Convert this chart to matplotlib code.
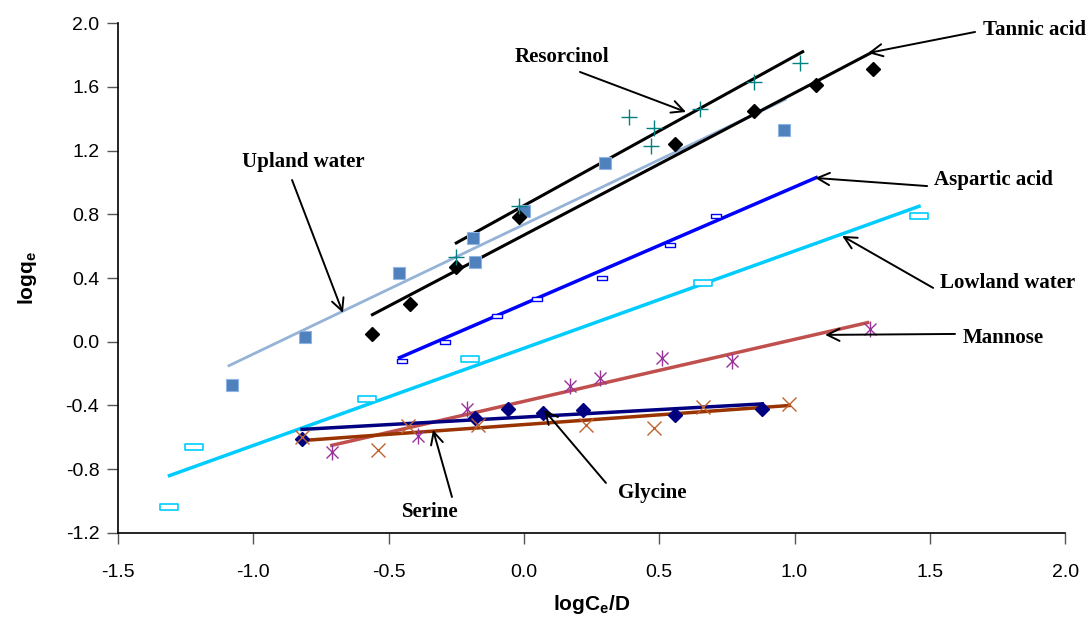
import matplotlib
matplotlib.use("Agg")
import matplotlib.pyplot as plt
from matplotlib.path import Path

plt.rcParams['font.family'] = ['Liberation Sans', 'DejaVu Sans']
plt.rcParams['mathtext.fontset'] = 'custom'
plt.rcParams['mathtext.rm'] = 'Liberation Sans'
plt.rcParams['mathtext.bf'] = 'Liberation Sans:bold'

# ---- measured points (logCe/D, logqe) ----
upland_x = [-1.08, -0.81, -0.46, -0.19, -0.18, 0.00, 0.30, 0.96]
upland_y = [-0.27, 0.03, 0.43, 0.65, 0.50, 0.82, 1.12, 1.33]

tannic_x = [-0.56, -0.42, -0.25, -0.02, 0.56, 0.85, 1.08, 1.29]
tannic_y = [0.05, 0.24, 0.47, 0.78, 1.24, 1.45, 1.61, 1.71]

resorcinol_x = [-0.25, -0.02, 0.47, 0.48, 0.39, 0.65, 0.85, 1.02]
resorcinol_y = [0.53, 0.85, 1.23, 1.34, 1.41, 1.46, 1.63, 1.75]

aspartic_x = [-0.45, -0.29, -0.10, 0.05, 0.29, 0.54, 0.71]
aspartic_y = [-0.12, 0.00, 0.16, 0.27, 0.40, 0.61, 0.79]

lowland_x = [-1.31, -1.22, -0.58, -0.20, 0.66, 1.46]
lowland_y = [-1.04, -0.66, -0.36, -0.11, 0.37, 0.79]

mannose_x = [-0.71, -0.39, -0.21, 0.17, 0.28, 0.51, 0.77, 1.28]
mannose_y = [-0.69, -0.59, -0.42, -0.28, -0.23, -0.10, -0.12, 0.08]

glycine_x = [-0.82, -0.18, -0.06, 0.07, 0.22, 0.56, 0.88]
glycine_y = [-0.61, -0.48, -0.42, -0.45, -0.43, -0.46, -0.42]

serine_x = [-0.82, -0.54, -0.43, -0.17, 0.23, 0.48, 0.66, 0.98]
serine_y = [-0.60, -0.68, -0.53, -0.52, -0.52, -0.54, -0.41, -0.39]

# ---- linear trend lines (start/end) ----
upland_fit_x = [-1.09, 0.965]
upland_fit_y = [-0.15, 1.52]
tannic_fit_x = [-0.56, 1.29]
tannic_fit_y = [0.17, 1.82]
resorcinol_fit_x = [-0.25, 1.03]
resorcinol_fit_y = [0.62, 1.82]
aspartic_fit_x = [-0.46, 1.08]
aspartic_fit_y = [-0.10, 1.03]
lowland_fit_x = [-1.31, 1.46]
lowland_fit_y = [-0.84, 0.85]
mannose_fit_x = [-0.71, 1.27]
mannose_fit_y = [-0.65, 0.12]
glycine_fit_x = [-0.82, 0.88]
glycine_fit_y = [-0.55, -0.39]
serine_fit_x = [-0.82, 0.98]
serine_fit_y = [-0.62, -0.40]

x_ticks = [-1.5, -1.0, -0.5, 0.0, 0.5, 1.0, 1.5, 2.0]
y_ticks = [-1.2, -0.8, -0.4, 0.0, 0.4, 0.8, 1.2, 1.6, 2.0]

# label text, text position, arrow tail, arrow tip
labels = [
    ("Tannic acid",   (1.885, 1.956), (1.667, 1.944), (1.272, 1.812)),
    ("Resorcinol",    (0.141, 1.787), (0.207, 1.693), (0.599, 1.442)),
    ("Upland water",  (-0.816, 1.128), (-0.857, 1.015), (-0.669, 0.181)),
    ("Aspartic acid", (1.734, 1.015), (1.490, 0.977), (1.076, 1.028)),
    ("Lowland water", (1.789, 0.369), (1.512, 0.338), (1.176, 0.664)),
    ("Mannose",       (1.771, 0.024), (1.593, 0.049), (1.113, 0.043)),
    ("Glycine",       (0.473, -0.948), (0.303, -0.886), (0.074, -0.428)),
    ("Serine",        (-0.347, -1.068), (-0.266, -0.974), (-0.336, -0.553)),
]

# flat open rectangle marker
rect_marker = Path([(-1, -0.32), (1, -0.32), (1, 0.32), (-1, 0.32), (-1, -0.32)],
                   [Path.MOVETO, Path.LINETO, Path.LINETO, Path.LINETO, Path.CLOSEPOLY])

fig = plt.figure(figsize=(10.88, 6.23), dpi=100)
ax = fig.add_axes([0.1085, 0.1445, 0.8705, 0.8185])

# trend lines
ax.plot(upland_fit_x, upland_fit_y, color='#95B3D7', lw=2, zorder=2)
ax.plot(tannic_fit_x, tannic_fit_y, color='black', lw=2.2, zorder=2)
ax.plot(resorcinol_fit_x, resorcinol_fit_y, color='black', lw=2.2, zorder=2)
ax.plot(aspartic_fit_x, aspartic_fit_y, color='#0000FF', lw=2.5, zorder=2)
ax.plot(lowland_fit_x, lowland_fit_y, color='#00CCFF', lw=2.5, zorder=2)
ax.plot(mannose_fit_x, mannose_fit_y, color='#C0504D', lw=2.5, zorder=2)
ax.plot(glycine_fit_x, glycine_fit_y, color='#000080', lw=2.5, zorder=2)
ax.plot(serine_fit_x, serine_fit_y, color='#993300', lw=2.5, zorder=2)

# data points
ax.plot(upland_x, upland_y, ls='none', marker='s', ms=8.5, mfc='#4F81BD',
        mec='#8EB4E3', mew=0.8, zorder=3)
ax.plot(tannic_x, tannic_y, ls='none', marker='D', ms=7, mfc='black',
        mec='black', zorder=3)
ax.plot(resorcinol_x, resorcinol_y, ls='none', marker='+', ms=11, mec='#008080',
        mew=1.0, zorder=3)
ax.plot(aspartic_x, aspartic_y, ls='none', marker=rect_marker, ms=7, mfc='white',
        mec='#0000FF', mew=1.0, zorder=3)
ax.plot(lowland_x, lowland_y, ls='none', marker=rect_marker, ms=13, mfc='white',
        mec='#00CCFF', mew=1.2, zorder=3)
ax.plot(mannose_x, mannose_y, ls='none', marker='x', ms=9, mec='#993399',
        mew=1.0, zorder=3)
ax.plot(mannose_x, mannose_y, ls='none', marker='|', ms=11, mec='#993399',
        mew=1.0, zorder=3)
ax.plot(glycine_x, glycine_y, ls='none', marker='D', ms=7.5, mfc='#000080',
        mec='#000080', zorder=3)
ax.plot(serine_x, serine_y, ls='none', marker='x', ms=10, mec='#C0622D',
        mew=1.0, zorder=3)

# callouts
for text, tpos, tail, tip in labels:
    ax.annotate("", xy=tip, xytext=tail,
                arrowprops=dict(arrowstyle='->', color='black', lw=1.4,
                                mutation_scale=22, shrinkA=0, shrinkB=0),
                annotation_clip=False, zorder=4)
    ax.text(tpos[0], tpos[1], text, ha='center', va='center',
            fontfamily='Liberation Serif', fontweight='bold', fontsize=15,
            clip_on=False, zorder=5)

ax.set_xlim(-1.5, 2.0)
ax.set_ylim(-1.2, 2.0)
ax.set_xticks(x_ticks)
ax.set_yticks(y_ticks)
ax.set_xticklabels([f"{v:.1f}" for v in x_ticks])
ax.set_yticklabels([f"{v:.1f}" for v in y_ticks])
ax.tick_params(axis='both', direction='out', length=8, width=1, labelsize=14,
               color='#555555')
ax.tick_params(axis='x', pad=14)
ax.tick_params(axis='y', pad=5.5)
for side in ('top', 'right'):
    ax.spines[side].set_visible(False)
for side in ('left', 'bottom'):
    ax.spines[side].set_linewidth(1.2)

ax.set_xlabel(r'$\mathbf{logC_e/D}$', fontsize=15, labelpad=9)
ax.set_ylabel(r'$\mathbf{logq_e}$', fontsize=15, labelpad=19)

fig.savefig('out.png', dpi=100)
